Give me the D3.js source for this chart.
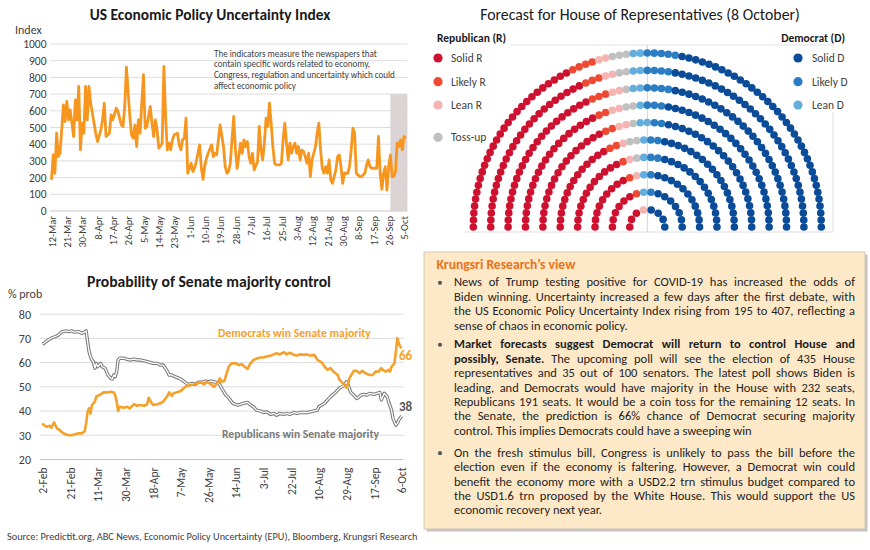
<!DOCTYPE html>
<html><head><meta charset="utf-8">
<script src="https://cdn.jsdelivr.net/npm/d3@7"></script>
<style>body{margin:0;background:#fff;} svg{display:block;}</style>
</head><body>
<svg id="c" width="870" height="550"></svg>
<script>
// ---------------- DATA ----------------
// US Economic Policy Uncertainty index (daily), day offsets from first date
const epuFirstDate = "12-Mar";
const epuTicks = ["12-Mar","21-Mar","30-Mar","8-Apr","17-Apr","26-Apr","5-May","14-May","23-May","1-Jun","10-Jun","19-Jun","28-Jun","7-Jul","16-Jul","25-Jul","3-Aug","12-Aug","21-Aug","30-Aug","8-Sep","17-Sep","26-Sep","5-Oct"];
const epuYTicks = [0,100,200,300,400,500,600,700,800,900,1000];
const epuDay = [0,1,2,3,4,5,6,7,8,9,10,11,13,14,15,16,17,18,19,20,21,22,23,25,26,27,29,30,31,32,34,35,36,38,39,41,42,43,44,46,47,48,49,50,51,52,54,55,56,57,58,59,60,61,62,63,65,66,67,68,69,70,71,72,74,75,76,77,78,79,80,82,83,84,85,87,88,89,90,91,92,94,95,96,97,98,99,101,102,103,104,105,106,107,108,109,110,111,112,113,114,115,116,117,118,119,121,122,123,124,125,126,127,128,129,130,131,132,134,135,136,137,138,139,140,141,142,143,144,145,146,147,148,149,150,151,152,153,155,156,157,158,159,160,161,162,163,164,165,167,168,169,170,171,172,174,175,176,177,178,179,181,182,184,185,186,187,188,190,191,192,193,194,195,196,197,198,199,200,201,202,203,204,205,206,207,208];
const epuValue = [186,336,226,466,326,346,486,636,536,656,546,606,446,666,546,746,366,526,466,746,546,746,646,526,466,416,486,546,646,446,466,576,546,616,596,516,506,626,862,566,456,436,516,386,546,466,816,496,506,566,626,526,446,546,486,376,406,866,566,366,406,366,426,456,466,396,366,426,436,556,226,286,236,256,296,396,256,190,270,316,346,396,326,346,336,426,516,386,266,226,236,286,426,566,366,256,326,406,346,426,386,416,326,286,346,246,296,506,366,306,406,556,506,646,526,386,286,276,276,286,426,526,406,306,406,346,386,406,346,386,306,366,356,326,286,346,206,306,386,466,526,366,256,226,266,226,306,186,166,246,326,336,266,166,226,226,266,366,496,466,226,206,206,226,276,306,266,256,256,256,446,226,130,226,266,125,266,336,206,206,236,406,386,426,366,446,436];
const epuShade = ["27-Sep","7-Oct"];
const epuShadeTop = 700;

// Senate majority probability (%), day offsets from first date
const senFirstDate = "2-Feb";
const senTicks = ["2-Feb","21-Feb","11-Mar","30-Mar","18-Apr","7-May","26-May","14-Jun","3-Jul","22-Jul","10-Aug","29-Aug","17-Sep","6-Oct"];
const senYTicks = [20,30,40,50,60,70,80];
const demDay = [0,1,3,5,6,8,10,12,13,16,18,20,23,25,27,29,30,31,32,33,34,36,37,40,42,44,47,49,50,51,52,53,56,58,60,63,65,67,70,72,73,75,76,79,81,83,86,87,89,90,92,95,97,99,102,104,106,109,111,113,115,118,120,122,123,125,127,128,130,133,135,137,139,141,143,145,148,150,152,154,157,159,161,163,166,168,170,173,175,177,180,182,184,187,189,191,192,194,196,198,200,203,204,206,208,209,210,211,213,214,216,218,220,222,225,227,229,231,233,234,236,238,239,240,242,243,244,245,246,247];
const demValue = [34.9,34.2,33.5,33.9,33.1,35.3,32.8,32.1,31.4,30.3,30.0,30.0,30.5,30.8,30.8,31.7,34.9,39.7,41.1,39.0,42.5,43.9,46.0,46.9,47.7,47.7,48.0,47.7,46.6,43.9,40.0,41.8,41.4,41.8,41.1,42.8,42.2,42.5,42.2,42.8,45.5,43.4,42.5,42.8,43.2,43.9,46.3,47.7,46.3,47.3,47.7,48.3,49.4,50.3,50.8,51.0,51.4,51.9,51.0,52.1,51.4,50.0,51.4,53.5,52.1,52.4,56.3,58.3,59.7,59.7,59.0,59.3,58.3,57.4,59.7,61.1,61.8,62.1,62.1,62.5,62.9,63.4,63.9,63.4,64.3,63.4,64.1,63.2,62.9,63.4,63.2,63.4,62.9,63.2,61.1,60.4,60.1,58.3,57.0,57.7,56.3,54.9,53.2,51.8,50.8,49.7,51.0,53.5,55.6,56.6,56.6,55.6,56.6,55.6,54.9,54.9,56.3,56.3,57.7,57.0,56.3,57.0,56.3,58.3,59.7,64.6,70.1,68.0,66.6,66.0];
const repDay = [0,2,4,6,9,11,13,16,18,20,22,25,27,29,30,31,32,33,34,35,36,37,38,40,41,43,44,45,47,48,49,50,51,52,53,56,58,60,63,65,67,70,72,74,76,79,81,83,86,87,89,91,94,96,98,100,103,105,107,110,112,114,116,119,121,122,123,125,126,128,129,131,134,136,138,141,143,145,147,150,152,154,157,159,161,163,166,168,170,173,175,177,180,182,184,186,189,190,192,194,196,198,200,202,204,206,208,209,210,211,212,214,216,217,219,221,223,225,228,230,232,233,235,237,238,240,241,243,244,245,247];
const repValue = [67.6,68.4,69.4,70.1,70.8,71.4,72.6,73.1,72.8,73.1,72.6,72.8,72.1,72.6,73.1,68.7,64.6,62.5,61.1,60.4,57.7,59.7,58.3,59.7,58.3,57.7,56.3,54.9,53.5,53.2,54.9,54.2,56.3,61.1,61.8,61.8,61.4,61.1,61.4,61.1,61.1,60.7,60.4,60.1,59.7,59.7,59.0,59.0,56.3,54.9,54.9,54.2,53.5,52.8,51.9,51.0,51.4,51.0,51.9,51.9,52.4,52.1,52.4,51.9,51.5,50.8,49.6,47.7,46.6,45.5,44.6,43.2,42.5,42.8,43.2,43.6,42.5,41.8,40.4,40.0,39.4,39.7,38.6,39.0,38.3,39.0,38.6,39.0,38.6,39.4,39.0,39.4,39.4,39.4,39.7,40.0,40.4,41.8,42.5,43.2,44.6,45.9,46.9,48.0,49.4,50.1,50.8,52.1,51.0,49.4,47.7,46.6,45.2,45.5,46.6,46.9,46.6,47.3,46.9,47.3,47.7,44.6,47.3,45.9,43.9,40.4,37.0,34.2,34.9,36.3,38.0];
const demLast = 66, repLast = 38;

// House forecast (seats)
const houseCats = ["Solid R","Likely R","Lean R","Toss-up","Lean D","Likely D","Solid D"];
const houseSeats = [158,19,14,12,13,24,195];
const houseColors = ["#CF1130","#EE4A33","#F5B3B1","#C0C0C0","#64AEDD","#2A7DC2","#0A4C98"];
const houseRows = 10;

// ---------------- SETUP ----------------
const F = "Carlito, Calibri, Lato, sans-serif";
const svg = d3.select("#c").attr("font-family", F);
svg.append("rect").attr("width", 870).attr("height", 550).attr("fill", "#fff");
const parseTick = s => d3.timeParse("%d-%b-%Y")(s + "-2020");
const fmt = d3.timeFormat("%-d-%b");
const TXT = "#404040";

function fit(sel, target) {
  const w = sel.node().getComputedTextLength();
  const fs = parseFloat(sel.attr("font-size"));
  sel.attr("font-size", fs * target / w);
  return sel;
}

// ---------------- EPU CHART ----------------
{
  const x = d3.scaleTime().domain([parseTick(epuTicks[0]), parseTick(epuTicks[epuTicks.length - 1])]).range([51.5, 404]);
  const y = d3.scaleLinear().domain([0, 1000]).range([211, 44]);
  const start = parseTick(epuFirstDate);
  const data = epuDay.map((d, i) => ({ date: d3.timeDay.offset(start, d), v: epuValue[i] }));

  fit(svg.append("text").attr("x", 210).attr("y", 20).attr("text-anchor", "middle")
    .attr("font-size", 15).attr("font-weight", 700).attr("fill", "#1a1a1a")
    .text("US Economic Policy Uncertainty Index"), 241);
  svg.append("text").attr("x", 15).attr("y", 33.5).attr("font-size", 12).attr("fill", TXT).text("Index");

  svg.append("g").selectAll("line").data(epuYTicks).join("line")
    .attr("x1", 50).attr("x2", 407.5).attr("y1", d => y(d)).attr("y2", d => y(d))
    .attr("stroke", d => d === 0 ? "#bfbfbf" : "#d9d9d9").attr("stroke-width", 0.9);

  svg.append("rect")
    .attr("x", x(parseTick(epuShade[0]))).attr("width", x(parseTick(epuShade[1])) - x(parseTick(epuShade[0])))
    .attr("y", y(epuShadeTop)).attr("height", y(0) - y(epuShadeTop)).attr("fill", "#dcd4d4");

  svg.append("path").datum(data).attr("fill", "none").attr("stroke", "#F7961E")
    .attr("stroke-width", 2.8).attr("stroke-linejoin", "round")
    .attr("d", d3.line().x(d => x(d.date)).y(d => y(d.v)));

  const ya = svg.append("g").attr("transform", "translate(46.5,0)")
    .call(d3.axisLeft(y).tickValues(epuYTicks).tickFormat(d3.format("d")).tickSize(0).tickPadding(0));
  ya.select(".domain").remove();
  ya.selectAll("text").attr("font-family", F).attr("font-size", 11.5).attr("fill", TXT);

  const xa = svg.append("g").attr("transform", `translate(0,${y(0)})`)
    .call(d3.axisBottom(x).tickValues(epuTicks.map(parseTick)).tickFormat(fmt).tickSize(0));
  xa.select(".domain").remove();
  xa.selectAll("text").attr("font-family", F).attr("font-size", 10.5).attr("fill", TXT)
    .attr("transform", "rotate(-90)").attr("text-anchor", "end").attr("x", -5).attr("y", 0).attr("dy", "0.35em");

  const note = ["The indicators measure the newspapers that", "contain specific words related to economy,",
    "Congress, regulation and uncertainty which could", "affect economic policy"];
  const nt = svg.append("g");
  const ref = nt.append("text").attr("font-size", 9).text(note[2]);
  const nfs = 9 * 181 / ref.node().getComputedTextLength();
  ref.remove();
  note.forEach((t, i) => nt.append("text").attr("x", 214).attr("y", 56.5 + i * 10.8)
    .attr("font-size", nfs).attr("fill", TXT).text(t));
}

// ---------------- SENATE CHART ----------------
{
  const x = d3.scaleTime().domain([parseTick(senTicks[0]), parseTick(senTicks[senTicks.length - 1])]).range([42.5, 401.7]);
  const y = d3.scaleLinear().domain([20, 80]).range([459.5, 314.2]);
  const start = parseTick(senFirstDate);
  const dem = demDay.map((d, i) => ({ date: d3.timeDay.offset(start, d), v: demValue[i] }));
  const rep = repDay.map((d, i) => ({ date: d3.timeDay.offset(start, d), v: repValue[i] }));

  fit(svg.append("text").attr("x", 209).attr("y", 287).attr("text-anchor", "middle")
    .attr("font-size", 15).attr("font-weight", 700).attr("fill", "#1a1a1a")
    .text("Probability of Senate majority control"), 244);
  svg.append("text").attr("x", 8).attr("y", 298).attr("font-size", 12).attr("fill", TXT).text("% prob");

  svg.append("g").selectAll("line").data(senYTicks).join("line")
    .attr("x1", 40).attr("x2", 403.5).attr("y1", d => y(d)).attr("y2", d => y(d))
    .attr("stroke", d => d === 20 ? "#bfbfbf" : "#d9d9d9").attr("stroke-width", 0.9);

  const line = d3.line().x(d => x(d.date)).y(d => y(d.v));
  svg.append("path").datum(rep).attr("fill", "none").attr("stroke", "#7a7a7a")
    .attr("stroke-width", 3.4).attr("stroke-linejoin", "round").attr("d", line);
  svg.append("path").datum(rep).attr("fill", "none").attr("stroke", "#fff")
    .attr("stroke-width", 1.3).attr("stroke-linejoin", "round").attr("d", line);
  svg.append("path").datum(dem).attr("fill", "none").attr("stroke", "#F5A02A")
    .attr("stroke-width", 2.6).attr("stroke-linejoin", "round").attr("d", line);

  const ya = svg.append("g").attr("transform", "translate(31,0)")
    .call(d3.axisLeft(y).tickValues(senYTicks).tickSize(0).tickPadding(0));
  ya.select(".domain").remove();
  ya.selectAll("text").attr("font-family", F).attr("font-size", 12).attr("fill", TXT);

  const xa = svg.append("g").attr("transform", `translate(0,${y(20)})`)
    .call(d3.axisBottom(x).tickValues(senTicks.map(parseTick)).tickFormat(fmt).tickSize(0));
  xa.select(".domain").remove();
  xa.selectAll("text").attr("font-family", F).attr("font-size", 11.5).attr("fill", TXT)
    .attr("transform", "rotate(-90)").attr("text-anchor", "end").attr("x", -8).attr("y", 0).attr("dy", "0.35em");

  fit(svg.append("text").attr("x", 218).attr("y", 336.5).attr("font-size", 12).attr("font-weight", 700)
    .attr("fill", "#F5A02A").text("Democrats win Senate majority"), 153);
  svg.append("text").attr("x", 399).attr("y", 359.5).attr("font-size", 13).attr("font-weight", 700)
    .attr("fill", "#F5A02A").text(demLast);
  fit(svg.append("text").attr("x", 222).attr("y", 437.5).attr("font-size", 12).attr("font-weight", 700)
    .attr("fill", "#7a7a7a").text("Republicans win Senate majority"), 157);
  svg.append("text").attr("x", 399).attr("y", 410.5).attr("font-size", 13).attr("font-weight", 700)
    .attr("fill", "#595959").text(repLast);
}

// ---------------- HOUSE PARLIAMENT ----------------
{
  fit(svg.append("text").attr("x", 640).attr("y", 20).attr("text-anchor", "middle")
    .attr("font-size", 15).attr("fill", "#1a1a1a")
    .text("Forecast for House of Representatives (8 October)"), 320);

  const cx = 647.3, cy = 227;
  // frame
  const fr = svg.append("g").attr("stroke", "#dedede").attr("stroke-width", 0.9);
  fr.append("line").attr("x1", 510).attr("x2", 833).attr("y1", 45).attr("y2", 45);
  fr.append("line").attr("x1", 833).attr("x2", 833).attr("y1", 45).attr("y2", 232);
  fr.append("line").attr("x1", 465).attr("x2", 833).attr("y1", 232).attr("y2", 232);
  fr.append("line").attr("x1", cx).attr("x2", cx).attr("y1", 45).attr("y2", 232).attr("stroke", "#cfcfcf");
  svg.append("rect").attr("x", 790).attr("y", 48).attr("width", 60).attr("height", 64).attr("fill", "#fff");

  const total = d3.sum(houseSeats);
  const rScale = d3.scaleLinear().domain([0, houseRows - 1]).range([17.5, 174]);
  const radii = d3.range(houseRows).map(rScale);
  const sumR = d3.sum(radii);
  const raw = radii.map(r => total * r / sumR);
  const per = raw.map(Math.floor);
  let rem = total - d3.sum(per);
  d3.range(houseRows).sort((a, b) => (raw[b] - per[b]) - (raw[a] - per[a])).slice(0, rem).forEach(i => per[i]++);

  const seats = [];
  radii.forEach((r, i) => {
    const a = d3.scaleLinear().domain([0, per[i] - 1]).range([Math.PI, 0]);
    for (let k = 0; k < per[i]; k++) seats.push({ r, row: i, ang: a(k) });
  });
  seats.sort((p, q) => (q.ang - p.ang) || (p.row - q.row));
  const cum = d3.cumsum(houseSeats);
  seats.forEach((s, i) => { s.cat = cum.findIndex(c => i < c); });

  svg.append("g").selectAll("circle").data(seats).join("circle")
    .attr("cx", d => cx + d.r * Math.cos(d.ang))
    .attr("cy", d => cy - d.r * Math.sin(d.ang))
    .attr("r", 3.8).attr("fill", d => houseColors[d.cat]);

  // legend
  svg.append("text").attr("x", 437).attr("y", 41.5).attr("font-size", 11.5).attr("font-weight", 700)
    .attr("fill", "#1a1a1a").text("Republican (R)");
  svg.append("text").attr("x", 845).attr("y", 41.5).attr("text-anchor", "end").attr("font-size", 11.5)
    .attr("font-weight", 700).attr("fill", "#1a1a1a").text("Democrat (D)");
  const leftY = [58, 81.7, 105, 137.3];
  [0, 1, 2, 3].forEach((c, i) => {
    svg.append("circle").attr("cx", 438).attr("cy", leftY[i]).attr("r", 4.6).attr("fill", houseColors[c]);
    svg.append("text").attr("x", 451).attr("y", leftY[i] + 4).attr("font-size", 11.5).attr("fill", TXT).text(houseCats[c]);
  });
  [6, 5, 4].forEach((c, i) => {
    svg.append("circle").attr("cx", 798).attr("cy", leftY[i]).attr("r", 4.6).attr("fill", houseColors[c]);
    svg.append("text").attr("x", 812).attr("y", leftY[i] + 4).attr("font-size", 11.5).attr("fill", TXT).text(houseCats[c]);
  });
}

// ---------------- TEXT BOX ----------------
{
  svg.append("rect").attr("x", 426.5).attr("y", 254.5).attr("width", 441).attr("height", 277).attr("fill", "#c4c4c4");
  svg.append("rect").attr("x", 424).attr("y", 252).attr("width", 441).attr("height", 277)
    .attr("fill", "#FDE8C8").attr("stroke", "#c9c0b4").attr("stroke-width", 0.8);
  fit(svg.append("text").attr("x", 436.5).attr("y", 268.5).attr("font-size", 13).attr("font-weight", 700)
    .attr("fill", "#E8731A").text("Krungsri Research\u2019s view"), 139);

  const bullets = [
    [[["News of Trump testing positive for COVID-19 has increased the odds of", 0]],
     [["Biden winning. Uncertainty increased a few days after the first debate, with", 0]],
     [["the US Economic Policy Uncertainty Index rising from 195 to 407, reflecting a", 0]],
     [["sense of chaos in economic policy.", 0]]],
    [[["Market forecasts suggest Democrat will return to control House and", 1]],
     [["possibly, Senate.", 1], ["The upcoming poll will see the election of 435 House", 0]],
     [["representatives and 35 out of 100 senators. The latest poll shows Biden is", 0]],
     [["leading, and Democrats would have majority in the House with 232 seats,", 0]],
     [["Republicans 191 seats. It would be a coin toss for the remaining 12 seats. In", 0]],
     [["the Senate, the prediction is 66% chance of Democrat securing majority", 0]],
     [["control. This implies Democrats could have a sweeping win", 0]]],
    [[["On the fresh stimulus bill, Congress is unlikely to pass the bill before the", 0]],
     [["election even if the economy is faltering. However, a Democrat win could", 0]],
     [["benefit the economy more with a USD2.2 trn stimulus budget compared to", 0]],
     [["the USD1.6 trn proposed by the White House. This would support the US", 0]],
     [["economic recovery next year.", 0]]]
  ];
  const starts = [282.3, 344.3, 452.7];
  const LH = 14.4, X0 = 454, X1 = 855;
  const meas = svg.append("text").style("visibility", "hidden");
  const tw = (t, b, fs) => { meas.attr("font-size", fs).attr("font-weight", b ? 700 : 400).text(t); return meas.node().getComputedTextLength(); };
  const words = line => { const o = []; line.forEach(([t, b]) => t.split(" ").forEach(w => { if (w) o.push({ w, b }); })); return o; };
  const spw = fs => tw("n n", 0, fs) - tw("nn", 0, fs);
  const fs0 = 12.5;
  const allLines = bullets.flat();
  const maxNat = d3.max(allLines, l => { const ws = words(l); return d3.sum(ws, o => tw(o.w, o.b, fs0)) + spw(fs0) * 0.8 * (ws.length - 1); });
  const pfs = Math.min(fs0, fs0 * (X1 - X0) / maxNat * 0.998);
  const sp = spw(pfs);

  bullets.forEach((b, bi) => {
    svg.append("circle").attr("cx", 440).attr("cy", starts[bi] + 0.5).attr("r", 2.1).attr("fill", "#595959");
    b.forEach((line, li) => {
      const ws = words(line);
      const wl = ws.map(o => tw(o.w, o.b, pfs));
      const last = li === b.length - 1;
      const gap = last ? sp : (X1 - X0 - d3.sum(wl)) / (ws.length - 1);
      const t = svg.append("text").attr("y", starts[bi] + li * LH + 4).attr("font-size", pfs).attr("fill", "#1f1f1f");
      let xx = X0;
      ws.forEach((o, k) => {
        t.append("tspan").attr("x", xx).attr("font-weight", o.b ? 700 : 400).text(o.w);
        xx += wl[k] + gap;
      });
    });
  });
  meas.remove();
}

// ---------------- SOURCE ----------------
fit(svg.append("text").attr("x", 7).attr("y", 540).attr("font-size", 10).attr("fill", TXT)
  .text("Source: Predictit.org, ABC News, Economic Policy Uncertainty (EPU), Bloomberg, Krungsri Research"), 411);
</script>
</body></html>
